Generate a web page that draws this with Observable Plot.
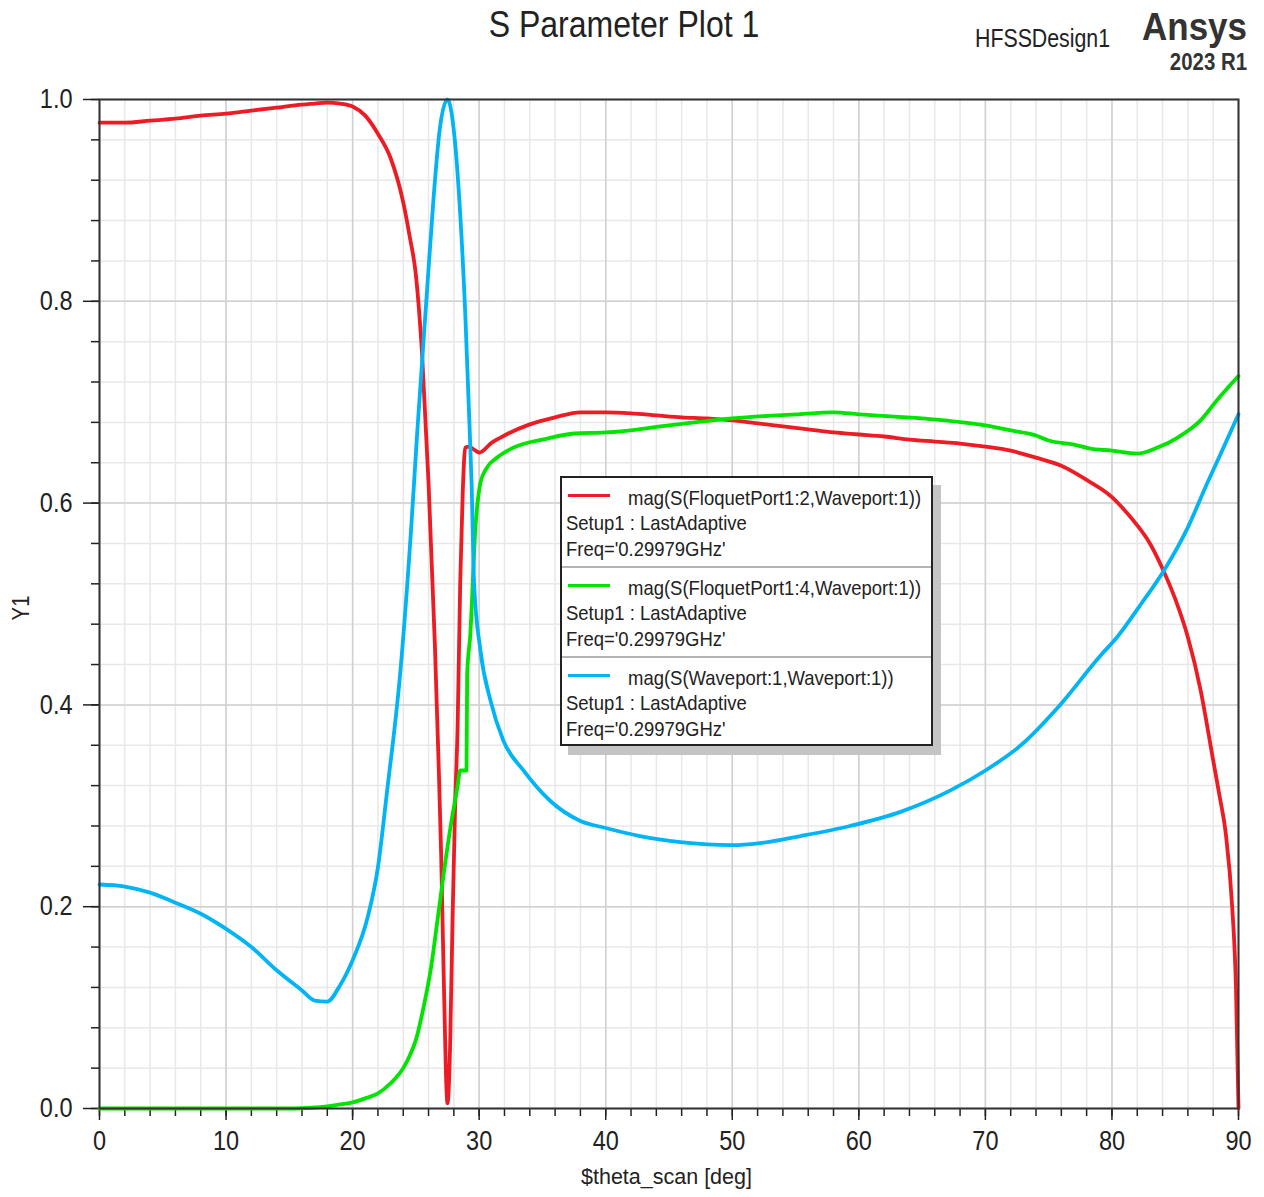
<!DOCTYPE html>
<html>
<head>
<meta charset="utf-8">
<script src="https://cdn.jsdelivr.net/npm/d3@7"></script>
<script src="https://cdn.jsdelivr.net/npm/@observablehq/plot@0.6"></script>
<style>
  html, body { margin: 0; padding: 0; background: #fff; }
  #wrap { position: relative; width: 1264px; height: 1197px; overflow: hidden; background: #fff;
          font-family: "Liberation Sans", Arial, sans-serif; color: #222; }
  #wrap svg { position: absolute; left: 0; top: 0; }
  .t { position: absolute; white-space: nowrap; line-height: 1; }
</style>
</head>
<body>
<div id="wrap"></div>
<script>
// ---------- data ----------
const seriesNames = [
  "mag(S(FloquetPort1:2,Waveport:1))",
  "mag(S(FloquetPort1:4,Waveport:1))",
  "mag(S(Waveport:1,Waveport:1))"
];
const seriesColors = ["#ed1c24", "#00e400", "#00b4f5"];
const setupLabel = "Setup1 : LastAdaptive";
const freqLabel = "Freq='0.29979GHz'";

const redTheta = [0,2,4,6,8,10,12,14,16,17,18,19,20,21,22,23,24,24.5,25,25.5,26,26.5,26.8,27,27.2,27.5,27.7,27.9,28.1,28.3,28.5,28.7,28.9,29.2,29.6,30,31,32,34,36,38,40,42,44,46,48,50,52,54,56,58,60,62,64,66,68,70,72,74,76,78,80,81,82,83,84,85,86,87,88,88.5,89,89.5,89.8,90];
const redMag = [0.977,0.977,0.979,0.981,0.984,0.986,0.989,0.992,0.995,0.996,0.997,0.996,0.993,0.984,0.966,0.942,0.898,0.865,0.826,0.745,0.62,0.46,0.34,0.25,0.13,0.005,0.06,0.19,0.30,0.38,0.52,0.61,0.655,0.656,0.653,0.650,0.660,0.667,0.678,0.685,0.690,0.690,0.689,0.687,0.685,0.684,0.682,0.679,0.676,0.673,0.670,0.668,0.666,0.663,0.661,0.659,0.656,0.652,0.645,0.637,0.623,0.606,0.593,0.578,0.560,0.535,0.505,0.467,0.415,0.345,0.31,0.272,0.20,0.12,0.0];

const greenTheta = [0,5,10,15,17,18,19,20,21,22,23,24,24.5,25,25.6,26.2,26.7,27.2,27.7,28.3,28.5,29,29.05,29.3,29.7,30.1,30.6,31.4,32.7,35.4,37.5,40,45,50,55,58,60,65,70,72,74,75,77,78.3,80,82,83.6,85.2,87,88.3,90];
const greenMag = [0,0,0,0,0.001,0.002,0.004,0.006,0.01,0.015,0.025,0.04,0.052,0.068,0.10,0.14,0.186,0.233,0.276,0.32,0.335,0.335,0.43,0.47,0.575,0.62,0.635,0.645,0.655,0.664,0.669,0.670,0.677,0.684,0.688,0.690,0.688,0.684,0.677,0.672,0.667,0.662,0.658,0.654,0.652,0.649,0.655,0.665,0.682,0.702,0.726];

const blueTheta = [0,2,4,6,8,10,12,14,16,17,18,19,20,21.2,22,22.7,23.8,24.6,25.1,25.9,26.4,26.9,27.5,28,28.5,28.9,29.2,29.4,29.6,30.1,30.9,31.9,33.5,35.6,38,40,42.7,45.9,50,52.2,55.4,59.3,63.3,67.2,70,72.8,75.9,79.1,80.4,82.3,84.1,86,87.5,88.6,90];
const blueMag = [0.222,0.220,0.214,0.204,0.193,0.178,0.160,0.137,0.117,0.107,0.106,0.122,0.147,0.19,0.239,0.312,0.437,0.57,0.669,0.814,0.903,0.972,1.0,0.969,0.887,0.788,0.689,0.62,0.52,0.454,0.404,0.365,0.335,0.305,0.285,0.278,0.27,0.264,0.261,0.263,0.27,0.28,0.294,0.315,0.335,0.36,0.40,0.449,0.467,0.50,0.533,0.576,0.619,0.649,0.688];

const xMajorTicks = [0,10,20,30,40,50,60,70,80,90];
const yMajorTicks = [0,0.2,0.4,0.6,0.8,1.0];

const titleText = "S Parameter Plot 1";
const designText = "HFSSDesign1";
const brandText = "Ansys";
const versionText = "2023 R1";
const xLabel = "$theta_scan [deg]";
const yLabel = "Y1";

// ---------- build ----------
const toRows = (xs, ys, name) => xs.map((x, i) => ({theta: x, mag: ys[i], series: name}));
const rows = [
  ...toRows(redTheta, redMag, seriesNames[0]),
  ...toRows(greenTheta, greenMag, seriesNames[1]),
  ...toRows(blueTheta, blueMag, seriesNames[2])
];

const xMinor = d3.range(0, 90.001, 2);
const yMinor = d3.range(0, 1.0001, 0.04);

const plot = Plot.plot({
  width: 1264,
  height: 1197,
  marginTop: 99,
  marginBottom: 89,
  marginLeft: 99,
  marginRight: 26,
  x: {domain: [0, 90], label: null},
  y: {domain: [0, 1], label: null},
  color: {domain: seriesNames, range: seriesColors},
  style: {fontFamily: '"Liberation Sans", Arial, sans-serif', fontSize: "27px", color: "#222", background: "transparent", overflow: "visible"},
  marks: [
    Plot.ruleX(xMinor, {stroke: "#e8e8e8", strokeWidth: 1.5}),
    Plot.ruleY(yMinor, {stroke: "#e8e8e8", strokeWidth: 1.5}),
    Plot.ruleX(xMajorTicks, {stroke: "#d0d0d0", strokeWidth: 1.5}),
    Plot.ruleY(yMajorTicks, {stroke: "#d0d0d0", strokeWidth: 1.5}),
    Plot.axisX(xMinor, {tickSize: 8, tickFormat: () => "", stroke: "#222", strokeWidth: 1.5, label: null}),
    Plot.axisX(xMajorTicks, {tickSize: 12, tickPadding: 10, tickFormat: d => String(d), stroke: "#222", strokeWidth: 1.5, fontSize: 27, label: null}),
    Plot.axisY(yMinor, {tickSize: 8, tickFormat: () => "", stroke: "#222", strokeWidth: 1.5, label: null}),
    Plot.axisY(yMajorTicks, {tickSize: 16, tickPadding: 11, tickFormat: d3.format(".1f"), stroke: "#222", strokeWidth: 1.5, fontSize: 27, label: null}),
    Plot.line(rows, {x: "theta", y: "mag", z: "series", stroke: "series", strokeWidth: 3.8, curve: "monotone-x"}),
    Plot.frame({stroke: "#333", strokeWidth: 2})
  ]
});

// condense tick labels horizontally (reference font is narrow)
function squeeze(el, s) {
  const X = parseFloat(el.getAttribute("x")) || 0;
  const T = el.getAttribute("transform") || "";
  el.setAttribute("transform", `${T} translate(${X},0) scale(${s},1) translate(${-X},0)`);
}
plot.querySelectorAll('g[aria-label$="tick label"] text').forEach(t => squeeze(t, 0.87));

const wrap = document.getElementById("wrap");
wrap.appendChild(plot);

// ---------- HTML text helpers ----------
function txt(str, {x, baseline, size, bold = false, anchor = "start", s = 1, color = "#222"}) {
  const d = document.createElement("div");
  d.className = "t";
  d.textContent = str;
  d.style.left = x + "px";
  d.style.top = (baseline - 0.8465 * size) + "px";
  d.style.fontSize = size + "px";
  d.style.color = color;
  if (bold) d.style.fontWeight = "bold";
  d.style.transformOrigin = "0 0";
  const shift = anchor === "middle" ? " translateX(-50%)" : anchor === "end" ? " translateX(-100%)" : "";
  d.style.transform = `scaleX(${s})${shift}`;
  wrap.appendChild(d);
  return d;
}

txt(titleText, {x: 624, baseline: 37.5, size: 36, anchor: "middle", s: 0.89});
txt(designText, {x: 975, baseline: 46.7, size: 26, s: 0.82});
txt(brandText, {x: 1247, baseline: 40.5, size: 38, bold: true, anchor: "end", s: 0.92, color: "#333"});
txt(versionText, {x: 1247, baseline: 70.5, size: 24, bold: true, anchor: "end", s: 0.85, color: "#333"});
txt(xLabel, {x: 666.5, baseline: 1185.5, size: 21.5, anchor: "middle", s: 1});

// rotated y label
{
  const d = document.createElement("div");
  d.className = "t";
  d.textContent = yLabel;
  d.style.left = "20.5px";
  d.style.top = "607.5px";
  d.style.fontSize = "24.5px";
  d.style.transformOrigin = "0 0";
  d.style.transform = "rotate(-90deg) scaleX(0.83) translate(-50%, -50%)";
  wrap.appendChild(d);
}

// ---------- legend ----------
const legend = document.createElement("div");
Object.assign(legend.style, {
  position: "absolute", left: "560px", top: "476px", width: "373px", height: "270px",
  boxSizing: "border-box", border: "2px solid #222", background: "#fff",
  boxShadow: "8px 9px 0 #c4c4c4"
});
wrap.appendChild(legend);

const entryTop = [476, 566, 656];
const sepY = [567, 657];
sepY.forEach(y => {
  const l = document.createElement("div");
  Object.assign(l.style, {position: "absolute", left: "562px", top: (y - 1) + "px", width: "369px", height: "2px", background: "#b4b4b4"});
  wrap.appendChild(l);
});
seriesNames.forEach((name, i) => {
  const base = entryTop[i];
  const sw = document.createElement("div");
  Object.assign(sw.style, {position: "absolute", left: "568px", top: (base + 18) + "px", width: "42px", height: "3px", background: seriesColors[i]});
  wrap.appendChild(sw);
  txt(name, {x: 628, baseline: base + 28.3, size: 21, s: 0.88});
  txt(setupLabel, {x: 566, baseline: base + 53.5, size: 21, s: 0.88});
  txt(freqLabel, {x: 566, baseline: base + 79.5, size: 21, s: 0.88});
});
</script>
</body>
</html>
